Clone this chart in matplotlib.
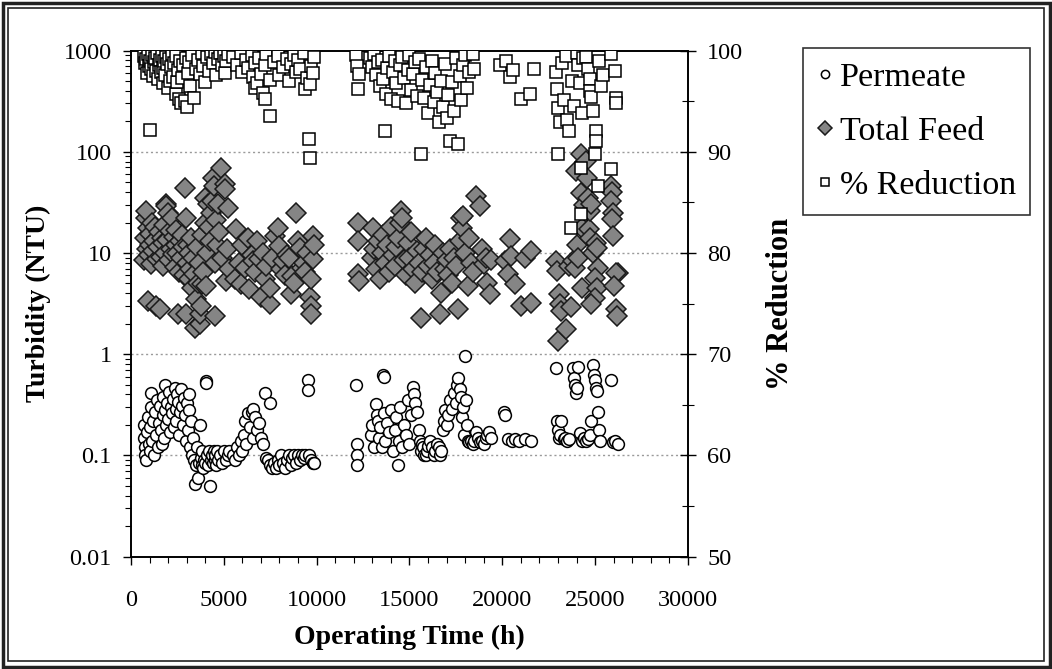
import numpy as np
import matplotlib
matplotlib.use("Agg")
import matplotlib.pyplot as plt
from matplotlib.patches import Rectangle
from matplotlib.ticker import MultipleLocator, LogLocator, FuncFormatter, NullFormatter

plt.rcParams['font.family'] = ['Liberation Serif', 'DejaVu Serif']

# permeate turbidity (NTU)
perm_t = [700, 720, 750, 780, 800, 850, 900, 950, 1000, 1050, 1080, 1100, 1150, 1200, 1250, 1300, 1350, 1400,
          1450, 1500, 1550, 1600, 1650, 1700, 1750, 1800, 1830, 1850, 1900, 1950, 2000, 2050, 2100, 2150, 2200,
          2250, 2300, 2350, 2400, 2450, 2500, 2550, 2600, 2650, 2700, 2750, 2800, 2850, 2900, 2950, 3000, 3050,
          3100, 3150, 3200, 3250, 3300, 3350, 3400, 3450, 3500, 3550, 3600, 3650, 3700, 3750, 3800, 3850, 3900,
          3950, 4000, 4040, 4060, 4100, 4150, 4200, 4260, 4300, 4350, 4400, 4450, 4500, 4550, 4600, 4650, 4700,
          4800, 4900, 5000, 5100, 5200, 5300,
          5500, 5600, 5700, 5800, 5900, 6000, 6100, 6140, 6200, 6300, 6400, 6500, 6550, 6600, 6700, 6800, 6900,
          7000, 7100, 7220, 7300, 7400, 7490, 7500, 7600, 7700, 7800, 7900, 8000, 8100, 8200, 8300, 8400, 8500,
          8600, 8700, 8800, 8900, 9000, 9100, 9200, 9300, 9400, 9540, 9560, 9600, 9700, 9800, 9850,
          12120, 12150, 12180, 12200,
          12950, 13000, 13100, 13200, 13250, 13300, 13350, 13400, 13500, 13570, 13620, 13650, 13700, 13800,
          13900, 14000, 14100, 14200, 14300, 14390, 14450, 14500, 14600, 14700, 14800, 14900, 15000, 15100,
          15190, 15250, 15300, 15400, 15500, 15550, 15600, 15700, 15750, 15800, 15890, 15950, 16000, 16100,
          16200, 16300, 16400, 16500, 16600, 16650, 16700, 16800, 16850, 16900, 17000, 17100, 17200, 17300,
          17400, 17500, 17550, 17600, 17700, 17800, 17850, 17900, 17950, 18000, 18040, 18100, 18150, 18200,
          18300, 18400, 18500, 18600, 18700, 18800, 18900, 19000, 19100, 19200, 19300, 19400,
          20100, 20150, 20300, 20500, 20700, 20900, 21200, 21540,
          22890, 22950, 23000, 23050, 23100, 23160, 23300, 23400, 23500, 23600, 23800, 23850, 23900, 23950,
          24000, 24100, 24200, 24300, 24400, 24500, 24600, 24700, 24800, 24880, 24950, 25000, 25050, 25100,
          25150, 25200, 25250, 25850, 25960, 26050, 26230]
perm_v = [0.20, 0.15, 0.12, 0.10, 0.09, 0.17, 0.24, 0.13, 0.11, 0.19, 0.41, 0.30, 0.14, 0.22, 0.10, 0.27, 0.16, 0.35,
          0.12, 0.21, 0.31, 0.18, 0.13, 0.25, 0.38, 0.15, 0.50, 0.28, 0.20, 0.33, 0.23, 0.42, 0.17, 0.30, 0.26,
          0.36, 0.19, 0.46, 0.29, 0.22, 0.40, 0.34, 0.16, 0.27, 0.45, 0.31, 0.20, 0.37, 0.25, 0.14, 0.33, 0.18,
          0.28, 0.40, 0.12, 0.22, 0.10, 0.15, 0.09, 0.052, 0.08, 0.12, 0.06, 0.085, 0.20, 0.095, 0.08, 0.11, 0.075,
          0.09, 0.085, 0.54, 0.52, 0.10, 0.08, 0.11, 0.05, 0.09, 0.10, 0.085, 0.11, 0.09, 0.10, 0.08, 0.11, 0.09,
          0.10, 0.085, 0.11, 0.09, 0.10, 0.11,
          0.10, 0.09, 0.12, 0.10, 0.14, 0.11, 0.16, 0.22, 0.13, 0.26, 0.19, 0.27, 0.15, 0.29, 0.24, 0.18, 0.21,
          0.15, 0.13, 0.41, 0.095, 0.09, 0.33, 0.08, 0.075, 0.085, 0.075, 0.09, 0.08, 0.10, 0.085, 0.075, 0.09, 0.10,
          0.08, 0.095, 0.10, 0.085, 0.10, 0.09, 0.10, 0.095, 0.10, 0.56, 0.44, 0.10, 0.09, 0.085, 0.085,
          0.50, 0.13, 0.10, 0.08,
          0.16, 0.20, 0.12, 0.32, 0.25, 0.22, 0.15, 0.19, 0.12, 0.63, 0.60, 0.26, 0.14, 0.21,
          0.17, 0.28, 0.11, 0.18, 0.24, 0.08, 0.14, 0.30, 0.12, 0.20, 0.16, 0.35, 0.13, 0.25,
          0.47, 0.40, 0.33, 0.27, 0.18, 0.14, 0.11, 0.13, 0.12, 0.10, 0.10, 0.11, 0.125, 0.14,
          0.12, 0.10, 0.11, 0.13, 0.12, 0.10, 0.11, 0.18, 0.22, 0.28, 0.20, 0.25, 0.35, 0.29,
          0.41, 0.33, 0.50, 0.58, 0.45, 0.38, 0.24, 0.30, 0.16, 0.95, 0.35, 0.20, 0.14, 0.135,
          0.14, 0.13, 0.14, 0.17, 0.15, 0.135, 0.14, 0.13, 0.15, 0.16, 0.17, 0.15,
          0.27, 0.25, 0.145, 0.14, 0.145, 0.14, 0.145, 0.14,
          0.73, 0.22, 0.18, 0.15, 0.16, 0.22, 0.145, 0.15, 0.14, 0.145, 0.73, 0.58, 0.50, 0.41,
          0.46, 0.75, 0.165, 0.14, 0.15, 0.14, 0.145, 0.16, 0.22, 0.78, 0.63, 0.55, 0.46, 0.43,
          0.27, 0.18, 0.14, 0.56, 0.135, 0.14, 0.13]

# total feed turbidity (NTU)
feed_t = [700, 750, 800, 810, 850, 900, 920, 950, 1000, 1050, 1100, 1150, 1200, 1250, 1300, 1350, 1400, 1450,
          1500, 1550, 1600, 1650, 1700, 1750, 1800, 1850, 1890, 1900, 1950, 2000, 2050, 2100, 2150, 2200, 2250,
          2300, 2350, 2400, 2450, 2500, 2530, 2600, 2650, 2700, 2750, 2800, 2850, 2910, 2960, 2980, 3000, 3050,
          3100, 3150, 3200, 3250, 3300, 3350, 3400, 3450, 3500, 3550, 3600, 3650, 3720, 3740, 3760, 3800, 3850,
          3900, 3990, 4000, 4050, 4100, 4150, 4200, 4250, 4300, 4350, 4420, 4450, 4500, 4550, 4600, 4650, 4700,
          4750, 4850, 4900, 5060, 5080, 5100, 5150, 5230, 5300,
          5600, 5660, 5800, 5930, 6000, 6140, 6300, 6350, 6500, 6600, 6700, 6800, 6900, 7000, 7100, 7200, 7300,
          7490, 7500, 7600, 7760, 7920, 8000, 8100, 8200, 8300, 8400, 8500, 8620, 8700, 8800, 8890, 9000, 9100,
          9200, 9300, 9400, 9500, 9640, 9680, 9700, 9720, 9800, 9830, 9850,
          12230, 12240, 12250, 12260,
          13000, 13030, 13100, 13200, 13300, 13400, 13500, 13600, 13700, 13800, 13900, 14000, 14100, 14200,
          14300, 14400, 14500, 14550, 14600, 14700, 14800, 14900, 15000, 15100, 15200, 15300, 15400, 15500,
          15620, 15700, 15800, 15890, 16000, 16100, 16200, 16300, 16400, 16500, 16650, 16700, 16800, 16900,
          17000, 17100, 17200, 17300, 17400, 17500, 17610, 17700, 17770, 17850, 17900, 18000, 18150, 18200,
          18300, 18400, 18580, 18800, 18900, 19000, 19100, 19200, 19340, 19400,
          20140, 20300, 20410, 20450, 20680, 21000, 21220, 21540, 21560,
          22890, 22950, 23000, 23050, 23100, 23160, 23430, 23600, 23700, 23810, 23900, 23970, 24000, 24100,
          24240, 24250, 24270, 24300, 24400, 24500, 24550, 24600, 24650, 24700, 24750, 24800, 24900, 25050,
          25100, 25150, 25000, 25080, 25020, 24800, 25850, 25900, 25850, 25950, 25900, 25960, 26230, 26100,
          26000, 26150, 26180]
feed_v = [8.5, 14, 22, 26, 11, 17.7, 3.35, 9.5, 15.4, 12, 7.8, 20, 10.5, 13, 18, 3.0, 8.8, 11.5,
          16, 2.8, 9.2, 14, 12.5, 7.5, 19, 10, 30.5, 29, 13.5, 25, 8.5, 16.5, 11, 22, 9.8,
          14.5, 7.2, 12, 17, 10, 2.5, 6.5, 13, 9, 15, 11.5, 6, 44, 22, 2.5, 8, 12,
          5.5, 10, 7, 14, 4.5, 9, 6.2, 1.8, 3.5, 11.5, 5, 8, 2.0, 2.5, 3.0, 4.9, 15,
          6.5, 35, 20, 4.7, 10, 30.5, 18, 13, 25, 33, 55, 46, 2.4, 8, 21, 12, 30.5,
          16, 69.5, 9, 48, 43, 5.3, 11, 28, 7,
          5.5, 17.3, 8, 4.9, 12, 7.1, 14.2, 4.4, 9.5, 8.3, 6.5, 13.2, 8.7, 3.7, 10, 5.5, 7.5,
          3.1, 4.5, 9, 14.7, 17.7, 11.6, 7, 8.3, 6, 9.5, 8.9, 3.9, 5.9, 5.0, 25, 13.2, 11.1,
          7.1, 8, 6.5, 10, 3.7, 3.0, 2.5, 5.5, 14.7, 8.7, 12,
          19.8, 13.2, 6.2, 5.3,
          9, 17.7, 11, 7, 13, 5.5, 10, 15, 8, 12, 6.5, 18, 9.5, 7.5,
          11.5, 14, 20, 26, 22, 8.5, 6, 12.5, 9, 16, 7, 5, 10.5, 8,
          2.3, 6.5, 11, 14.2, 7.5, 9.5, 5.5, 8, 12, 6.5, 2.5, 4, 10, 7,
          8.5, 6, 11, 5, 9, 7.5, 2.8, 13, 22, 17.7, 23, 10, 4.7, 14,
          8, 6.5, 36.6, 29, 11, 7.7, 9, 5.0, 3.9, 8.5,
          8.3, 6.2, 13.8, 9.3, 4.9, 3.0, 8.9, 10.5, 3.2,
          8.3, 6.6, 1.35, 3.9, 3.1, 2.7, 1.77, 7.5, 2.9, 8.3, 7.1, 65, 12, 8.9,
          96, 39, 4.5, 17.7, 30, 81, 55, 35, 17.3, 26, 14, 30.5, 10, 12.6,
          11.1, 7.1, 5.6, 4.5, 3.6, 3.1, 46, 40, 33, 25, 21.6, 14.7, 6.3, 6.4,
          4.7, 2.8, 2.4]

# % reduction
red_t = [700, 750, 800, 850, 900, 950, 1000, 1050, 1100, 1150, 1200, 1250, 1300, 1350, 1400, 1450, 1500, 1550,
         1600, 1650, 1700, 1750, 1800, 1850, 1900, 1950, 2000, 2050, 2100, 2150, 2200, 2250, 2300, 2400, 2450,
         2500, 2550, 2600, 2650, 2700, 2750, 2800, 2900, 2950, 3000, 3050, 3100, 3200, 3300, 3400, 3500, 3600,
         3700, 3800, 3900, 4000, 4100, 4200, 4300, 4400, 4500, 4600, 4700, 4800, 4900, 5000, 5060, 5100, 5200,
         5500, 5700, 5900, 6000, 6200, 6300, 6500, 6600, 6680, 6700, 6800, 6900, 7000, 7100, 7200, 7220, 7300,
         7490, 7500, 7700, 7900, 8000, 8200, 8400, 8500, 8600, 8800, 8900, 9000, 9100, 9300, 9400, 9500, 9600,
         9620, 9640, 9700, 9800, 9850,
         12100, 12200, 12300, 12250,
         12900, 13000, 13100, 13200, 13300, 13400, 13500, 13600, 13700, 13750, 13800, 13900, 14000, 14100,
         14200, 14300, 14400, 14500, 14600, 14700, 14800, 14900, 15000, 15100, 15200, 15300, 15400, 15500,
         15600, 15700, 15800, 15900, 16000, 16100, 16200, 16300, 16400, 16500, 16600, 16700, 16800, 16900,
         17000, 17100, 17180, 17300, 17400, 17500, 17610, 17700, 17800, 17900, 18000, 18100, 18200, 18400,
         18500,
         19900, 20200, 20400, 20600, 21000, 21500, 21700,
         22900, 22950, 23000, 23000, 23100, 23200, 23300, 23450, 23500, 23600, 23700, 23750, 23850, 24000,
         24100, 24200, 24240, 24240, 24300, 24350, 24500, 24600, 24700, 24750, 24800, 24900, 24990, 25050,
         25050, 25150, 25200, 25300, 25400, 25850, 25850, 26070, 26120, 26120]
red_v = [99.5, 98.8, 99.2, 97.8, 99.7, 98.5, 92.2, 99.0, 98.2, 99.6, 97.5, 98.9, 99.3, 98.0, 99.8, 97.2, 98.6, 99.1,
         97.9, 99.5, 98.3, 96.8, 99.0, 97.6, 99.4, 98.7, 96.3, 99.2, 97.0, 98.4, 99.7, 97.4, 98.8, 95.7, 99.5,
         96.9, 98.1, 95.2, 99.0, 94.8, 97.3, 98.6, 95.0, 99.3, 94.4, 97.8, 98.9, 96.5, 99.6, 95.3, 98.2, 99.1,
         97.7, 99.8, 98.5, 96.9, 99.4, 98.0, 99.7, 98.8, 99.9, 97.6, 99.2, 99.8, 98.6, 99.5, 97.8, 99.0, 99.7,
         99.4, 98.6, 99.8, 97.9, 99.1, 98.3, 99.6, 97.4, 96.3, 98.8, 96.8, 99.3, 97.7, 95.8, 98.6, 95.2, 99.7,
         93.5, 97.1, 98.9, 99.5, 97.6, 98.4, 99.2, 97.0, 98.7, 99.6, 97.9, 99.1, 98.2, 99.8, 96.2, 97.3, 91.3,
         89.4, 96.7, 98.5, 97.8, 99.4,
         99.6, 98.5, 97.7, 96.2,
         99.3, 98.4, 99.7, 97.6, 98.9, 96.5, 99.1, 97.2, 92.1, 95.7, 98.3, 99.5, 95.2, 97.9,
         99.0, 96.8, 95.0, 98.6, 99.4, 97.3, 94.8, 98.1, 99.6, 96.1, 97.7, 98.9, 95.5, 99.2,
         89.8, 97.1, 95.3, 98.4, 93.8, 96.6, 99.0, 94.9, 97.8, 95.9, 92.9, 97.0, 94.4, 98.7,
         93.3, 95.6, 91.1, 96.9, 94.0, 99.3, 90.8, 97.5, 95.1, 98.6, 99.6, 96.3, 97.9, 99.7,
         98.2,
         98.6, 99.0, 97.4, 98.1, 95.2, 95.7, 98.2,
         97.9, 96.2, 94.3, 89.8, 92.9, 98.8, 95.1, 99.5, 93.1, 92.1, 82.5, 97.0, 94.5, 99.8,
         98.6, 96.8, 88.4, 83.9, 93.8, 99.3, 99.4, 98.2, 97.2, 96.0, 95.4, 94.0, 89.8, 92.1,
         91.1, 86.6, 99.0, 96.5, 97.6, 88.3, 99.7, 98.0, 95.3, 94.8]

fig = plt.figure(figsize=(10.52, 6.69), dpi=100)
ax = fig.add_axes([0.1245, 0.168, 0.5294, 0.7564])
ax2 = ax.twinx()

fs = 17.5
ax.plot(feed_t, feed_v, linestyle='none', marker='D', markersize=10, markerfacecolor='#858585',
        markeredgecolor='#1a1a1a', markeredgewidth=1.1, label='Total Feed', zorder=3)
ax.plot(perm_t, perm_v, linestyle='none', marker='o', markersize=8.5, markerfacecolor='white',
        markeredgecolor='black', markeredgewidth=1.1, label='Permeate', zorder=4)
ax2.plot(red_t, red_v, linestyle='none', marker='s', markersize=8.5, markerfacecolor='white',
         markeredgecolor='black', markeredgewidth=1.1, label='% Reduction', zorder=4)

ax.set_yscale('log')
ax.set_ylim(0.01, 1000)
ax.set_xlim(0, 30000)
ax2.set_ylim(50, 100)

ax.yaxis.set_major_locator(LogLocator(base=10, numticks=10))
ax.yaxis.set_minor_locator(LogLocator(base=10, subs=np.arange(2, 10), numticks=20))
ax.yaxis.set_major_formatter(FuncFormatter(lambda v, p: '%g' % v))
ax.yaxis.set_minor_formatter(NullFormatter())
ax.xaxis.set_major_locator(MultipleLocator(5000))
ax.xaxis.set_minor_locator(MultipleLocator(1000))
ax2.yaxis.set_major_locator(MultipleLocator(10))
ax2.yaxis.set_minor_locator(MultipleLocator(5))

for y in [0.1, 1, 10, 100]:
    ax.axhline(y, color='#9a9a9a', linestyle=(0, (1.5, 2)), linewidth=1.0, zorder=1)

ax.tick_params(axis='both', which='major', labelsize=fs, direction='out', length=6, width=1, pad=8)
ax.tick_params(axis='x', which='major', pad=18)
ax.tick_params(axis='both', which='minor', direction='out', length=4, width=0.8)
ax2.tick_params(axis='y', which='major', labelsize=fs, direction='inout', length=12, width=1, pad=8)
ax2.tick_params(axis='y', which='minor', direction='inout', length=8, width=0.8)

for a in (ax, ax2):
    for s in a.spines.values():
        s.set_linewidth(1.2)

ax.set_xlabel('Operating Time (h)', fontsize=20, fontweight='bold', labelpad=10)
ax.set_ylabel('Turbidity (NTU)', fontsize=20, fontweight='bold', labelpad=9)
ax2.set_ylabel('% Reduction', fontsize=22, fontweight='bold', labelpad=16)

h1, l1 = ax.get_legend_handles_labels()
h2, l2 = ax2.get_legend_handles_labels()
handles = [h1[1], h1[0], h2[0]]
labels = [l1[1], l1[0], l2[0]]
leg = fig.legend(handles, labels, loc='upper left', bbox_to_anchor=(0.763, 0.928), fontsize=24.5,
                 frameon=True, fancybox=False, edgecolor='black', markerscale=0.7, handlelength=0.5,
                 handletextpad=0.2, labelspacing=0.69, borderpad=0.4, borderaxespad=0)
leg.get_frame().set_linewidth(1.2)

# double border round the whole picture
fig.patches.append(Rectangle((2.5 / 1052, 2.5 / 669), 1 - 5 / 1052, 1 - 5 / 669, transform=fig.transFigure,
                             fill=False, edgecolor='#222222', linewidth=2.5))
fig.patches.append(Rectangle((8 / 1052, 8 / 669), 1 - 16 / 1052, 1 - 16 / 669, transform=fig.transFigure,
                             fill=False, edgecolor='#222222', linewidth=1.2))

fig.savefig('out.png', dpi=100)
